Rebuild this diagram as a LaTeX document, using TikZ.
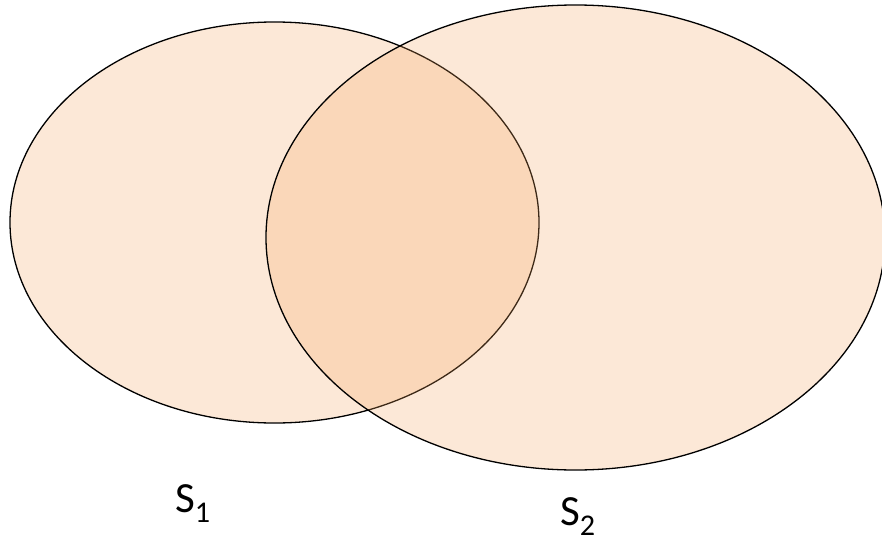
\documentclass[tikz,border=0pt]{standalone}
\usepackage{fontspec}
\setmainfont{Carlito}
\definecolor{setfill}{RGB}{244,165,95}
\begin{document}
\begin{tikzpicture}[x=1pt,y=-1pt,
  setshape/.style={draw=black,line width=1.3pt,fill=setfill,fill opacity=0.25},
  setlabel/.style={anchor=base west,inner sep=0pt,font=\fontsize{43}{43}\selectfont}]
\useasboundingbox (0,0) rectangle (882,543);
\clip (0,0) rectangle (882,543);
\draw[setshape] (274.5,222.5) ellipse [x radius=264.5, y radius=200.5];
\draw[setshape] (575.5,237.5) ellipse [x radius=309.5, y radius=232.5];
\node[setlabel] (s1) at (175,512) {S\textsubscript{1}};
\node[setlabel] (s2) at (560,525) {S\textsubscript{2}};
\end{tikzpicture}
\end{document}
